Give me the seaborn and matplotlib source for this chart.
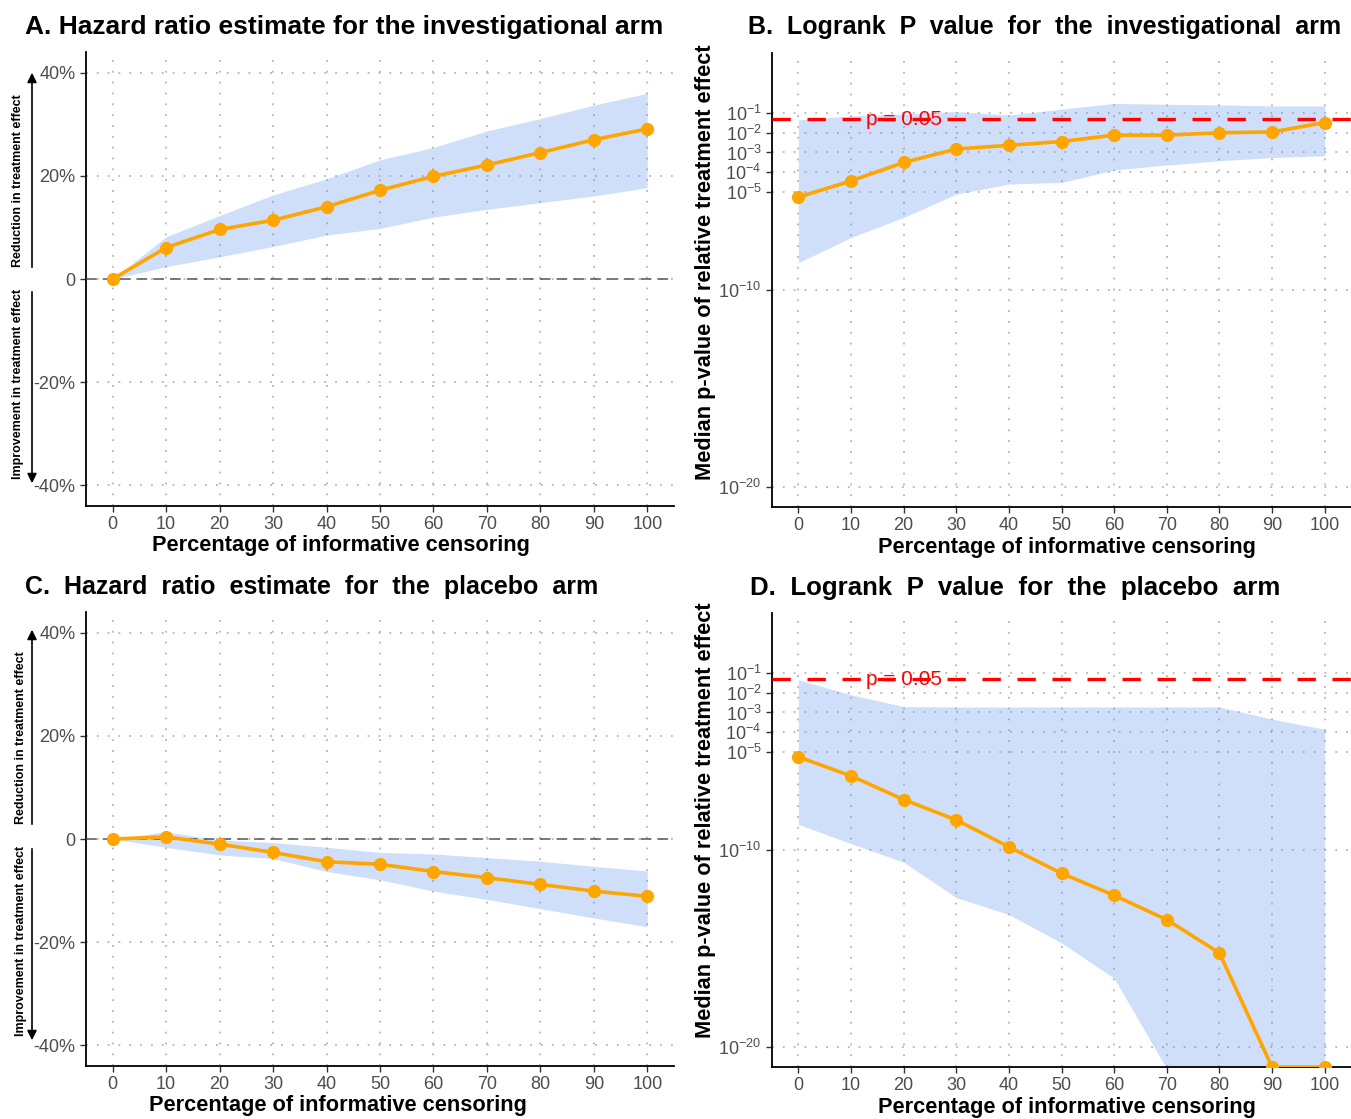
import matplotlib
matplotlib.use("Agg")
import matplotlib.pyplot as plt
import seaborn as sns
import numpy as np
import pandas as pd

# ---------------- data ----------------
censoring_pct = [0, 10, 20, 30, 40, 50, 60, 70, 80, 90, 100]

# Panel A: hazard ratio change (%) investigational arm
hr_inv_median = [0, 6.1, 9.6, 11.4, 14.0, 17.2, 19.9, 22.1, 24.5, 27.0, 29.1]
hr_inv_upper = [0, 8.2, 12.3, 16.3, 19.4, 23.1, 25.5, 28.7, 31.1, 33.7, 36.0]
hr_inv_lower = [0, 2.4, 4.3, 6.3, 8.5, 9.8, 12.0, 13.5, 14.8, 16.1, 17.7]

# Panel C: hazard ratio change (%) placebo arm
hr_pla_median = [0, 0.4, -1.0, -2.6, -4.4, -4.9, -6.3, -7.5, -8.8, -10.1, -11.1]
hr_pla_upper = [0, 1.4, -0.2, -0.7, -1.6, -2.6, -2.9, -3.6, -4.3, -5.3, -6.2]
hr_pla_lower = [0, -1.6, -3.1, -3.8, -6.3, -7.9, -10.1, -11.7, -13.5, -15.3, -17.0]

# Panel B: logrank p-value investigational arm
p_inv_median = [5.4e-6, 3.6e-5, 3.1e-4, 1.5e-3, 2.3e-3, 3.6e-3, 7.6e-3, 7.6e-3, 1.0e-2, 1.1e-2, 3.3e-2]
p_inv_upper = [4.6e-2, 7.2e-2, 8.9e-2, 1.2e-1, 7.9e-2, 1.6e-1, 3.1e-1, 2.8e-1, 2.6e-1, 2.3e-1, 2.3e-1]
p_inv_lower = [2.5e-9, 4.8e-8, 5.0e-7, 7.6e-6, 2.5e-5, 3.0e-5, 1.3e-4, 2.3e-4, 3.8e-4, 5.5e-4, 6.8e-4]

# Panel D: logrank p-value placebo arm
p_pla_median = [5.6e-6, 6.0e-7, 3.8e-8, 3.5e-9, 1.5e-10, 6.8e-12, 5.2e-13, 3.0e-14, 6.2e-16, 1e-21, 1e-21]
p_pla_upper = [4.6e-2, 7.9e-3, 2.0e-3, 1.9e-3, 1.9e-3, 1.9e-3, 1.9e-3, 1.9e-3, 1.9e-3, 4.6e-4, 1.4e-4]
p_pla_lower = [2.1e-9, 2.2e-10, 2.5e-11, 4.0e-13, 5.5e-14, 2.0e-15, 3.2e-17, 8e-22, 1e-30, 1e-30, 1e-30]

hr_ticks = [-40, -20, 0, 20, 40]
hr_ticklabels = ["-40%", "-20%", "0", "20%", "40%"]
p_ticks = [1e-1, 1e-2, 1e-3, 1e-4, 1e-5, 1e-10, 1e-20]
p_ticklabels = [r"$\mathregular{10^{-1}}$", r"$\mathregular{10^{-2}}$", r"$\mathregular{10^{-3}}$",
                r"$\mathregular{10^{-4}}$", r"$\mathregular{10^{-5}}$", r"$\mathregular{10^{-10}}$",
                r"$\mathregular{10^{-20}}$"]
x_ticks = censoring_pct

titles = ["A. Hazard ratio estimate for the investigational arm",
          "B.  Logrank  P  value  for  the  investigational  arm",
          "C.  Hazard  ratio  estimate  for  the  placebo  arm",
          "D.  Logrank  P  value  for  the  placebo  arm"]
xlab = "Percentage of informative censoring"
ylab_p = "Median p-value of relative treatment effect"
up_text = "Reduction in treatment effect"
down_text = "Improvement in treatment effect"
p_threshold = 0.05

# ---------------- style ----------------
sns.set_theme(style="white")
plt.rcParams['font.family'] = ['Liberation Sans', 'DejaVu Sans']
plt.rcParams['mathtext.fontset'] = 'custom'
plt.rcParams['mathtext.rm'] = 'Liberation Sans'
plt.rcParams['mathtext.it'] = 'Liberation Sans:italic'
plt.rcParams['mathtext.bf'] = 'Liberation Sans:bold'
plt.rcParams['text.color'] = 'black'

W, H = 1351, 1119
fig = plt.figure(figsize=(W / 100, H / 100), dpi=100)
fig.patch.set_facecolor('white')


def add_ax(l, t, r, b):
    return fig.add_axes([l / W, 1 - b / H, (r - l) / W, (b - t) / H])


LINE_COL = '#FFA500'
BAND_COL = '#6495ED'
GRID_COL = '#B5B5B5'
TICK_COL = '#4D4D4D'


def style_ax(ax):
    for s in ['top', 'right']:
        ax.spines[s].set_visible(False)
    for s in ['left', 'bottom']:
        ax.spines[s].set_color('black')
        ax.spines[s].set_linewidth(1.3)
    ax.grid(True, linestyle=(0, (1, 5)), color=GRID_COL, linewidth=1.3)
    ax.set_axisbelow(True)
    ax.tick_params(axis='both', colors='#333333', labelcolor=TICK_COL, labelsize=13,
                   length=4, width=1, direction='out', left=True, bottom=True)
    ax.set_xlim(-5, 105)
    ax.set_xticks(x_ticks)
    ax.set_xlabel("")
    ax.set_ylabel("")


def draw(ax, med, lo, hi):
    ax.fill_between(censoring_pct, lo, hi, color=BAND_COL, alpha=0.3, linewidth=0, zorder=2)
    df = pd.DataFrame({'x': censoring_pct, 'y': med})
    sns.lineplot(data=df, x='x', y='y', ax=ax, color=LINE_COL, linewidth=2.6, marker='o',
                 markersize=9.5, markeredgewidth=0, zorder=4)


# Panel A
axA = add_ax(86, 52, 674, 506)
draw(axA, hr_inv_median, hr_inv_lower, hr_inv_upper)
axA.axhline(0, color='#555555', linestyle=(0, (7, 4)), linewidth=1.1, zorder=3)
axA.set_ylim(-44, 44)
axA.set_yticks(hr_ticks)
axA.set_yticklabels(hr_ticklabels)
style_ax(axA)

# Panel C
axC = add_ax(86, 612, 674, 1066)
draw(axC, hr_pla_median, hr_pla_lower, hr_pla_upper)
axC.axhline(0, color='#555555', linestyle=(0, (7, 4)), linewidth=1.1, zorder=3)
axC.set_ylim(-44, 44)
axC.set_yticks(hr_ticks)
axC.set_yticklabels(hr_ticklabels)
style_ax(axC)

# Panels B and D
for (t, b), med, lo, hi in [((53, 507), p_inv_median, p_inv_lower, p_inv_upper),
                            ((613, 1067), p_pla_median, p_pla_lower, p_pla_upper)]:
    ax = add_ax(772, t, 1351, b)
    draw(ax, med, lo, hi)
    ax.set_yscale('log')
    ax.set_ylim(1e-21, 10 ** 2.05)
    ax.axhline(p_threshold, color='#FF0000', linestyle=(0, (5.5, 5)), linewidth=2.4, zorder=5)
    ax.text(20, p_threshold, "p = 0.05", color='#FF0000', fontsize=15, ha='center', va='center', zorder=6)
    ax.set_yticks(p_ticks)
    ax.set_yticklabels(p_ticklabels)
    ax.minorticks_off()
    style_ax(ax)

# Titles
fig.text(25 / W, 1 - 27 / H, titles[0], fontsize=19, fontweight='bold', ha='left', va='center', color='black')
fig.text(748 / W, 1 - 27 / H, titles[1], fontsize=18, fontweight='bold', ha='left', va='center', color='black')
fig.text(25 / W, 1 - 587 / H, titles[2], fontsize=18, fontweight='bold', ha='left', va='center', color='black')
fig.text(750 / W, 1 - 588 / H, titles[3], fontsize=18.6, fontweight='bold', ha='left', va='center', color='black')

# X labels
fs_lab = 15.7
for cx, cy in [(341, 546), (1067, 547), (338, 1105), (1067, 1107)]:
    fig.text(cx / W, 1 - cy / H, xlab, fontsize=fs_lab, fontweight='bold', ha='center', va='center',
             color='black')

# Y labels (p-value panels)
for cy in [262, 820]:
    fig.text(705 / W, 1 - cy / H, ylab_p, fontsize=fs_lab, fontweight='bold', ha='center', va='center',
             rotation=90, color='black')

# Arrow annotations on hazard-ratio panels
for off, tx in [(0, 18), (557, 21)]:
    fig.add_artist(matplotlib.patches.FancyArrowPatch(
        (32 / W, 1 - (270 + off) / H), (32 / W, 1 - (70 + off) / H),
        transform=fig.transFigure, arrowstyle='-|>', mutation_scale=14, color='black', linewidth=1.2))
    fig.add_artist(matplotlib.patches.FancyArrowPatch(
        (32 / W, 1 - (289 + off) / H), (32 / W, 1 - (486 + off) / H),
        transform=fig.transFigure, arrowstyle='-|>', mutation_scale=14, color='black', linewidth=1.2))
    fig.text(tx / W, 1 - (267 + off) / H, up_text, fontsize=9, fontweight='bold', rotation=90,
             ha='center', va='bottom', color='black')
    fig.text(tx / W, 1 - (289 + off) / H, down_text, fontsize=9, fontweight='bold', rotation=90,
             ha='center', va='top', color='black')

fig.savefig("out.png", dpi=100, facecolor='white')
